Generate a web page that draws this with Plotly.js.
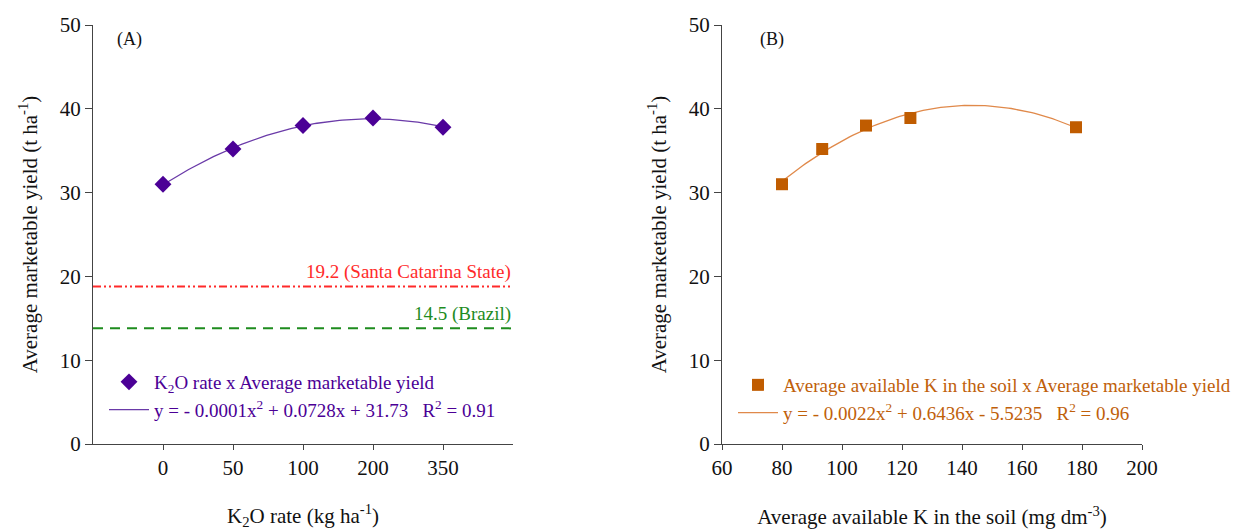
<!DOCTYPE html>
<html>
<head>
<meta charset="utf-8">
<script src="https://cdn.plot.ly/plotly-3.0.1.min.js"></script>
<style>html,body{margin:0;padding:0;background:#fff;}#chart{width:1259px;height:530px;}</style>
</head>
<body>
<div id="chart"></div>
<script>
// ---- Data ----
const rateLabels = ['0', '50', '100', '200', '350'];          // K2O rate (kg ha-1), category ticks
const yieldA = [31.0, 35.2, 38.0, 38.9, 37.8];                 // panel A average marketable yield (t ha-1)
const soilK = [80, 93.4, 108, 122.8, 178];                     // panel B average available K in soil (mg dm-3)
const yieldB = [31.0, 35.2, 38.0, 38.9, 37.8];                 // panel B average marketable yield (t ha-1)
const refLevels = [18.8, 13.8];                                // reference yield lines as drawn
const refLabels = ['19.2 (Santa Catarina State)', '14.5 (Brazil)'];
const refColors = ['#ff2a2a', '#1e8c1e'];
const refDash = ['8px,3px,2px,3px,2px,3px', '10px,7px'];
const yTicks = [0, 10, 20, 30, 40, 50];
const xTicksB = [60, 80, 100, 120, 140, 160, 180, 200];

// ---- quadratic least-squares trendline (like a spreadsheet polynomial trendline) ----
function quadFit(xs, ys) {
  let S = [0,0,0,0,0], T = [0,0,0];
  for (let i = 0; i < xs.length; i++) {
    let p = 1;
    for (let k = 0; k < 5; k++) { S[k] += p; if (k < 3) T[k] += p * ys[i]; p *= xs[i]; }
  }
  const M = [[S[0],S[1],S[2],T[0]],[S[1],S[2],S[3],T[1]],[S[2],S[3],S[4],T[2]]];
  for (let c = 0; c < 3; c++) {
    for (let r = c + 1; r < 3; r++) {
      const f = M[r][c] / M[c][c];
      for (let k = c; k < 4; k++) M[r][k] -= f * M[c][k];
    }
  }
  const s = [0,0,0];
  for (let r = 2; r >= 0; r--) {
    let v = M[r][3];
    for (let k = r + 1; k < 3; k++) v -= M[r][k] * s[k];
    s[r] = v / M[r][r];
  }
  return x => s[0] + s[1] * x + s[2] * x * x;
}
function sample(xs, ys, n) {
  const f = quadFit(xs, ys);
  const x0 = Math.min(...xs), x1 = Math.max(...xs);
  const ox = [], oy = [];
  for (let i = 0; i <= n; i++) { const x = x0 + (x1 - x0) * i / n; ox.push(x); oy.push(f(x)); }
  return {x: ox, y: oy};
}
const idxA = rateLabels.map((_, i) => i);
const fitA = sample(idxA, yieldA, 100);
const fitB = sample(soilK, yieldB, 100);

const FONT = '"Liberation Serif", "Times New Roman", Times, serif';
const purple = '#4b0096';
const orange = '#c05c00';

const traces = [
  {x: idxA, y: yieldA, type: 'scatter', mode: 'markers', xaxis: 'x', yaxis: 'y',
   name: 'K<sub>2</sub>O rate x Average marketable yield', legend: 'legend',
   marker: {symbol: 'diamond', size: 13, color: purple, line: {width: 0}}},
  {x: fitA.x, y: fitA.y, type: 'scatter', mode: 'lines', xaxis: 'x', yaxis: 'y',
   name: 'y = - 0.0001x<sup>2</sup> + 0.0728x + 31.73   R<sup>2</sup> = 0.91', legend: 'legend',
   line: {color: '#6a3aa8', width: 1.3}},
  {x: soilK, y: yieldB, type: 'scatter', mode: 'markers', xaxis: 'x2', yaxis: 'y2',
   name: 'Average available K in the soil x Average marketable yield', legend: 'legend2',
   marker: {symbol: 'square', size: 12, color: orange, line: {width: 0}}},
  {x: fitB.x, y: fitB.y, type: 'scatter', mode: 'lines', xaxis: 'x2', yaxis: 'y2',
   name: 'y = - 0.0022x<sup>2</sup> + 0.6436x - 5.5235   R<sup>2</sup> = 0.96', legend: 'legend2',
   line: {color: '#e0894a', width: 1.3}}
];
// draw lines first so markers sit on top
const data = [traces[1], traces[0], traces[3], traces[2]];

const shapes = refLevels.map((v, i) => ({
  type: 'line', xref: 'x domain', x0: 0, x1: 1, yref: 'y', y0: v, y1: v,
  line: {color: refColors[i], width: 2, dash: refDash[i]}
}));

const annotations = refLevels.map((v, i) => ({
  xref: 'x domain', x: 1, xanchor: 'right', yref: 'y', y: v, yanchor: 'bottom', yshift: 1,
  text: refLabels[i], showarrow: false, font: {family: FONT, size: 19, color: refColors[i]}
}));
annotations.push(
  {xref: 'x domain', x: 0.053, xanchor: 'left', yref: 'y domain', y: 0.965, yanchor: 'middle',
   text: '(A)', showarrow: false, font: {family: FONT, size: 18, color: '#111'}},
  {xref: 'x2 domain', x: 0.085, xanchor: 'left', yref: 'y2 domain', y: 0.965, yanchor: 'middle',
   text: '(B)', showarrow: false, font: {family: FONT, size: 18, color: '#111'}}
);

const axisCommon = {
  showline: true, linecolor: '#444', linewidth: 1, ticks: 'outside', ticklen: 7, tickcolor: '#444',
  showgrid: false, zeroline: false, tickfont: {family: FONT, size: 21, color: '#111'}
};
const yAxis = Object.assign({}, axisCommon, {range: [0, 50], tickvals: yTicks,
  title: {text: 'Average marketable yield (t ha<sup>-1</sup>)', font: {family: FONT, size: 21, color: '#111'}, standoff: 16}});

const layout = {
  width: 1259, height: 530,
  margin: {l: 0, r: 0, t: 0, b: 0},
  paper_bgcolor: '#fff', plot_bgcolor: '#fff',
  font: {family: FONT},
  xaxis: Object.assign({}, axisCommon, {domain: [93/1259, 513/1259], range: [-1, 5],
    tickvals: idxA, ticktext: rateLabels, ticklen: 5, anchor: 'y',
    title: {text: 'K<sub>2</sub>O rate (kg ha<sup>-1</sup>)', font: {family: FONT, size: 21, color: '#111'}, standoff: 30}}),
  yaxis: Object.assign({}, yAxis, {domain: [1 - 444/530, 1 - 25/530], anchor: 'x'}),
  xaxis2: Object.assign({}, axisCommon, {domain: [722/1259, 1142/1259], range: [60, 200],
    tickvals: xTicksB, ticklen: 5, anchor: 'y2',
    title: {text: 'Average available K in the soil (mg dm<sup>-3</sup>)', font: {family: FONT, size: 21, color: '#111'}, standoff: 30}}),
  yaxis2: Object.assign({}, yAxis, {domain: [1 - 444/530, 1 - 25/530], anchor: 'x2'}),
  showlegend: true,
  legend: {x: 104/1259, y: 1 - 363/530, xanchor: 'left', yanchor: 'top', bgcolor: 'rgba(0,0,0,0)',
    font: {family: FONT, size: 19, color: purple}, itemwidth: 40, tracegroupgap: 0, traceorder: 'reversed'},
  legend2: {x: 733/1259, y: 1 - 366/530, xanchor: 'left', yanchor: 'top', bgcolor: 'rgba(0,0,0,0)',
    font: {family: FONT, size: 19, color: '#c0600a'}, itemwidth: 40, tracegroupgap: 0, traceorder: 'reversed'},
  shapes: shapes,
  annotations: annotations
};

Plotly.newPlot('chart', data, layout, {displayModeBar: false, staticPlot: true});
</script>
</body>
</html>
